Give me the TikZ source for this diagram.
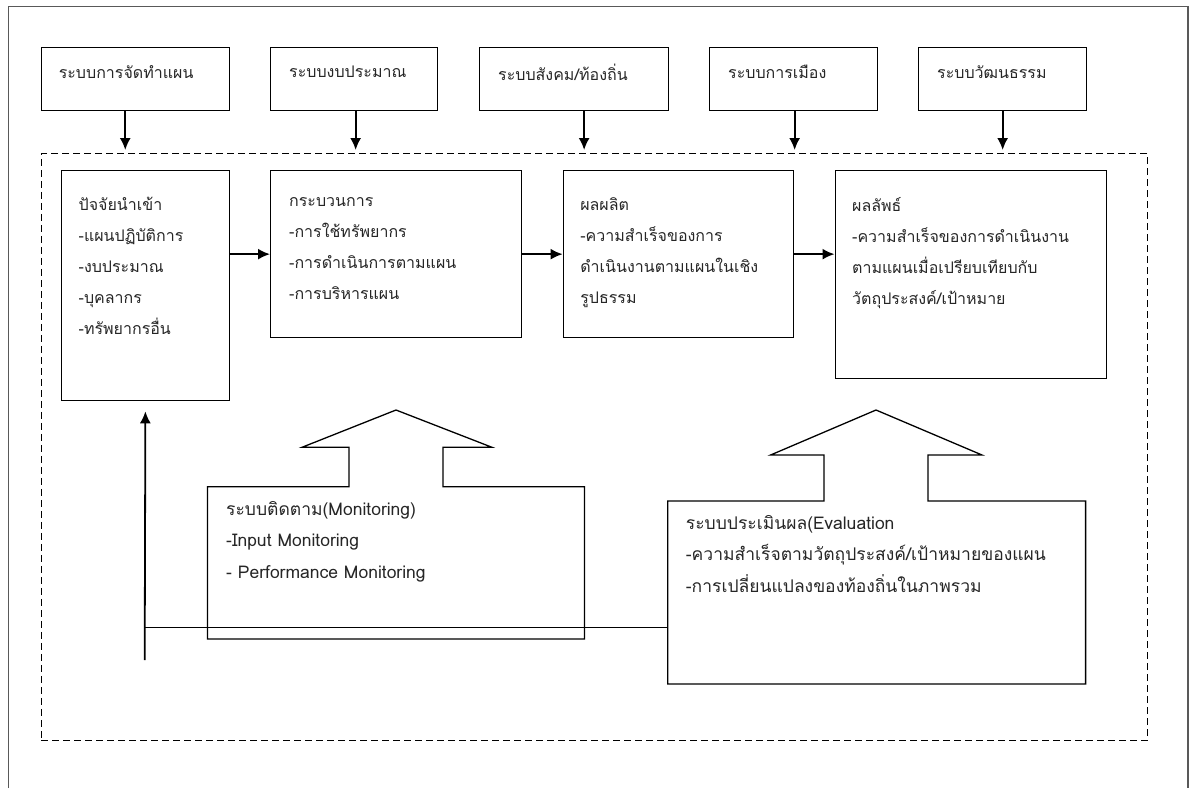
\documentclass[tikz,border=0pt]{standalone}
\usepackage{fontspec}
\newfontfamily\thai[Script=Thai]{Loma}
\usetikzlibrary{arrows.meta,positioning}
\tikzset{>={Latex[length=12pt,width=11pt]}}
\tikzset{
  box/.style={draw,line width=1.3pt,anchor=north west,inner sep=0pt},
  txt/.style={anchor=north west,align=left,inner sep=0pt,text=black!85,
    font=\thai\fontsize{16}{31}\selectfont},
  wtxt/.style={txt,font=\thai\fontsize{17.5}{31.5}\selectfont},
  arr/.style={->,line width=1.8pt},
  conn/.style={line width=1.3pt}
}
\begin{document}
\begin{tikzpicture}[x=1pt,y=-1pt]
\useasboundingbox (0,0) rectangle (1191,788);
\draw[line width=1.3pt,black!65] (8.4,788) -- (8.4,6.7) -- (1188,6.7) -- (1188,788);
% top row
\node[box,minimum width=188pt,minimum height=63pt] (plan) at (40.6,47) {};
\node[box,minimum width=167pt,minimum height=63pt] (budget) at (270,47) {};
\node[box,minimum width=189pt,minimum height=63pt] (social) at (479,47) {};
\node[box,minimum width=168pt,minimum height=63pt] (politic) at (709,47) {};
\node[box,minimum width=168pt,minimum height=63pt] (culture) at (918,47) {};
\node[txt,anchor=west] (planT) at ([xshift=18pt,yshift=7pt]plan.west) {ระบบการจัดทำแผน};
\node[txt,anchor=west] (budgetT) at ([xshift=19pt,yshift=7pt]budget.west) {ระบบงบประมาณ};
\node[txt,anchor=west] (socialT) at ([xshift=19pt,yshift=7pt]social.west) {ระบบสังคม/ท้องถิ่น};
\node[txt,anchor=west] (politicT) at ([xshift=19pt,yshift=7pt]politic.west) {ระบบการเมือง};
\node[txt,anchor=west] (cultureT) at ([xshift=19pt,yshift=7pt]culture.west) {ระบบวัฒนธรรม};
% dashed frame
\node[draw,line width=1.3pt,dash pattern=on 7pt off 4pt,anchor=north west,inner sep=0pt,
  minimum width=1106.4pt,minimum height=587pt] (frame) at (40.6,153) {};
\draw[arr,shorten >=3pt] ([xshift=-10pt]plan.south) -- ([xshift=-10pt]plan.south |- frame.north);
\draw[arr,shorten >=3pt] ([xshift=1.5pt]budget.south) -- ([xshift=1.5pt]budget.south |- frame.north);
\draw[arr,shorten >=3pt] ([xshift=10pt]social.south) -- ([xshift=10pt]social.south |- frame.north);
\draw[arr,shorten >=3pt] ([xshift=1pt]politic.south) -- ([xshift=1pt]politic.south |- frame.north);
\draw[arr,shorten >=3pt] (culture.south) -- (culture.south |- frame.north);
% middle row
\node[box,minimum width=167.5pt,minimum height=230pt] (in) at (61,170) {};
\node[box,minimum width=251pt,minimum height=167pt] (proc) at (270,170) {};
\node[box,minimum width=230.4pt,minimum height=167pt] (out) at (562.6,170) {};
\node[box,minimum width=271.5pt,minimum height=208pt] (res) at (834.5,170) {};
\node[txt] (inT) at ([xshift=17.5pt,yshift=-27pt]in.north west)
  {ปัจจัยนำเข้า\\-แผนปฏิบัติการ\\-งบประมาณ\\-บุคลากร\\-ทรัพยากรอื่น};
\node[txt] (procT) at ([xshift=19pt,yshift=-27pt]proc.north west)
  {กระบวนการ\\-การใช้ทรัพยากร\\-การดำเนินการตามแผน\\-การบริหารแผน};
\node[txt] (outT) at ([xshift=17.5pt,yshift=-27pt]out.north west)
  {ผลผลิต\\-ความสำเร็จของการ\\ดำเนินงานตามแผนในเชิง\\รูปธรรม};
\node[txt] (resT) at ([xshift=17.5pt,yshift=-27pt]res.north west)
  {ผลลัพธ์\\-ความสำเร็จของการดำเนินงาน\\ตามแผนเมื่อเปรียบเทียบกับ\\วัตถุประสงค์/เป้าหมาย};
\draw[arr] (in.east |- proc.east) -- (proc.west);
\draw[arr] (proc.east) -- (out.west);
\draw[arr] (out.east) -- (out.east -| res.west);
% monitoring and evaluation
\draw[conn] (207.4,639) -- (207.4,486.7) -- (349,486.7) -- (349,447.3) -- (302,447.3)
  -- (396,410) -- (492,447.3) -- (443,447.3) -- (443,486.7) -- (584.4,486.7) -- (584.4,639) -- cycle;
\draw[conn] (667.7,684) -- (667.7,501) -- (824,501) -- (824,455) -- (770.6,455)
  -- (876,410) -- (982,455) -- (928,455) -- (928,501) -- (1085.6,501) -- (1085.6,684) -- cycle;
\node[wtxt] (monT) at (226,501)
  {ระบบติดตาม(Monitoring)\\-Input Monitoring\\- Performance Monitoring};
\node[wtxt] (evT) at (685.7,515)
  {ระบบประเมินผล(Evaluation\\-ความสำเร็จตามวัตถุประสงค์/เป้าหมายของแผน\\-การเปลี่ยนแปลงของท้องถิ่นในภาพรวม};
% feedback
\coordinate (evL) at (667.7,627.7);
\coordinate (fbJ) at (144.7,627.7);
\coordinate (fbB) at (144.7,660);
\draw[conn] (evL) -- (fbJ);
\draw[arr,shorten >=10pt] (fbB) -- (in.south);
\end{tikzpicture}
\end{document}
